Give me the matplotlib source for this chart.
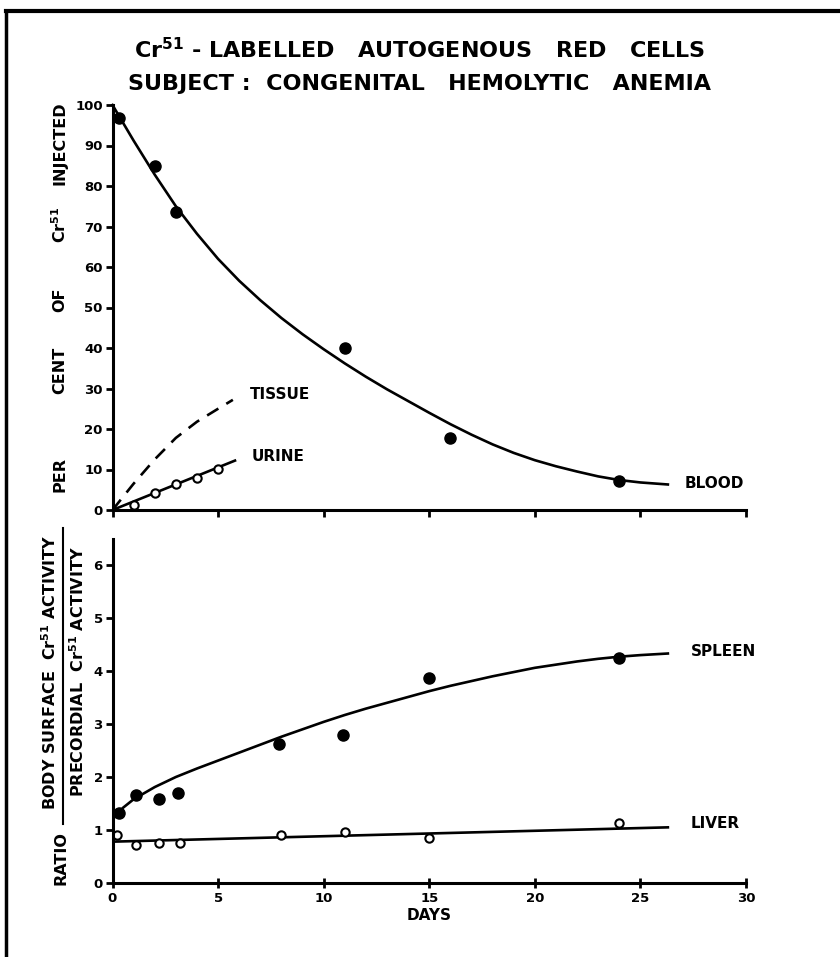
import matplotlib
matplotlib.use('Agg')
import matplotlib.pyplot as plt
from matplotlib.lines import Line2D

plt.rcParams['font.family'] = 'DejaVu Sans'
plt.rcParams['font.weight'] = 'bold'
plt.rcParams['axes.labelweight'] = 'bold'
plt.rcParams['mathtext.default'] = 'bf'

# upper panel: per cent of Cr51 injected
blood_days = [0.3, 2, 3, 11, 16, 24]
blood_pct = [96.7, 85, 73.7, 40, 17.9, 7.2]
# fitted blood curve
blood_curve_days = [0, 1, 2, 3, 4, 5, 6, 7, 8, 9, 10, 11, 12, 13, 14, 15,
                    16, 17, 18, 19, 20, 21, 22, 23, 24, 25, 26.3]
blood_curve_pct = [100, 91.2, 82.8, 75, 68.2, 62, 56.6, 51.8, 47.4, 43.4,
                   39.7, 36.2, 32.9, 29.8, 26.9, 24.0, 21.2, 18.6, 16.2,
                   14.1, 12.3, 10.8, 9.5, 8.3, 7.4, 6.8, 6.3]

urine_days = [1, 2, 3, 4, 5]
urine_pct = [1.2, 4.1, 6.4, 8.0, 10.2]
urine_line_days = [0, 5.8]
urine_line_pct = [0, 12.2]

tissue_days = [0, 1, 2, 3, 4, 5, 5.7]
tissue_pct = [0, 6.5, 12.5, 17.8, 21.8, 25, 27.2]

# lower panel: body surface / precordial activity ratio
spleen_days = [0.3, 1.1, 2.2, 3.1, 7.9, 10.9, 15, 24]
spleen_ratio = [1.32, 1.66, 1.58, 1.69, 2.62, 2.79, 3.86, 4.24]
spleen_curve_days = [0, 0.5, 1, 2, 3, 4, 5, 6, 7, 8, 9, 10, 11, 12, 13, 14,
                     15, 16, 17, 18, 19, 20, 21, 22, 23, 24, 25, 26.3]
spleen_curve_ratio = [1.2, 1.42, 1.58, 1.81, 2.0, 2.16, 2.31, 2.46, 2.61,
                      2.76, 2.9, 3.04, 3.17, 3.29, 3.4, 3.51, 3.62, 3.72,
                      3.81, 3.9, 3.98, 4.06, 4.12, 4.18, 4.23, 4.27, 4.3, 4.33]

liver_days = [0.2, 1.1, 2.2, 3.2, 8, 11, 15, 24]
liver_ratio = [0.91, 0.72, 0.75, 0.75, 0.91, 0.96, 0.84, 1.13]
liver_line_days = [0, 26.3]
liver_line_ratio = [0.78, 1.05]

W, H = 840, 957
fig = plt.figure(figsize=(W / 100, H / 100), dpi=100)
fig.patch.set_facecolor('white')

def fx(px):
    return px / W

def fy(py):
    return 1 - py / H

left, right = 112.5, 746
ax1 = fig.add_axes([fx(left), fy(510), fx(right - left), (510 - 105) / H])
ax2 = fig.add_axes([fx(left), fy(883), fx(right - left), (883 - 538.5) / H])

for ax in (ax1, ax2):
    ax.set_xlim(0, 30)
    for s in ('top', 'right'):
        ax.spines[s].set_visible(False)
    for s in ('left', 'bottom'):
        ax.spines[s].set_linewidth(2.2)
    ax.tick_params(width=2, length=5, labelsize=9.5, pad=2)
    ax.set_xticks([0, 5, 10, 15, 20, 25, 30])

# upper panel
ax1.set_ylim(0, 100)
ax1.set_yticks(range(0, 101, 10))
ax1.set_xticklabels([])
ax1.plot(blood_curve_days, blood_curve_pct, color='black', lw=1.9,
         solid_joinstyle='round', clip_on=False)
ax1.plot(blood_days, blood_pct, 'o', color='black', ms=8, clip_on=False)
ax1.plot(tissue_days, tissue_pct, color='black', lw=1.9, dashes=(5, 3.5))
ax1.plot(urine_line_days, urine_line_pct, color='black', lw=1.9)
ax1.plot(urine_days, urine_pct, 'o', mfc='white', mec='black', mew=1.5, ms=6)
ax1.text(6.5, 28.4, 'TISSUE', fontsize=11, va='center')
ax1.text(6.6, 13.3, 'URINE', fontsize=11, va='center')
ax1.text(27.1, 6.6, 'BLOOD', fontsize=11, va='center', clip_on=False)

# lower panel
ax2.set_ylim(0, 6.5)
ax2.set_yticks(range(0, 7))
ax2.tick_params(axis='x', direction='inout', length=7, pad=3)
ax2.plot(spleen_curve_days, spleen_curve_ratio, color='black', lw=1.9,
         solid_joinstyle='round')
ax2.plot(spleen_days, spleen_ratio, 'o', color='black', ms=8, clip_on=False)
ax2.plot(liver_line_days, liver_line_ratio, color='black', lw=1.9)
ax2.plot(liver_days, liver_ratio, 'o', mfc='white', mec='black', mew=1.5, ms=6, clip_on=False)
ax2.text(27.4, 4.36, 'SPLEEN', fontsize=11, va='center')
ax2.text(27.4, 1.13, 'LIVER', fontsize=11, va='center')
ax2.set_xlabel('DAYS', fontsize=11, labelpad=2)

# titles and axis labels
fig.text(0.5, fy(50), r'Cr$^{51}$ - LABELLED   AUTOGENOUS   RED   CELLS',
         ha='center', va='center', fontsize=16)
fig.text(0.5, fy(84), 'SUBJECT :  CONGENITAL   HEMOLYTIC   ANEMIA',
         ha='center', va='center', fontsize=16)

ylabel_words = ['PER', 'CENT', 'OF', r'Cr$^{51}$', 'INJECTED']
ylabel_rows = [475, 370, 300, 225, 143]
for word, row in zip(ylabel_words, ylabel_rows):
    fig.text(fx(60), fy(row), word, rotation=90, ha='center', va='center',
             fontsize=11.5)

fig.text(fx(61), fy(858), 'RATIO', rotation=90, ha='center', va='center', fontsize=11.5)
fig.text(fx(50), fy(672), r'BODY SURFACE  Cr$^{51}$ ACTIVITY',
         rotation=90, ha='center', va='center', fontsize=11.5)
fig.text(fx(78), fy(672), r'PRECORDIAL  Cr$^{51}$ ACTIVITY',
         rotation=90, ha='center', va='center', fontsize=11.5)
fig.add_artist(Line2D([fx(63), fx(63)], [fy(528), fy(824)], color='black', lw=1.5))

# page frame
fig.add_artist(Line2D([fx(6), fx(6)], [0, fy(11)], color='black', lw=2.5))
fig.add_artist(Line2D([fx(6), 1], [fy(11), fy(11)], color='black', lw=3))

fig.savefig('out.png', dpi=100)
